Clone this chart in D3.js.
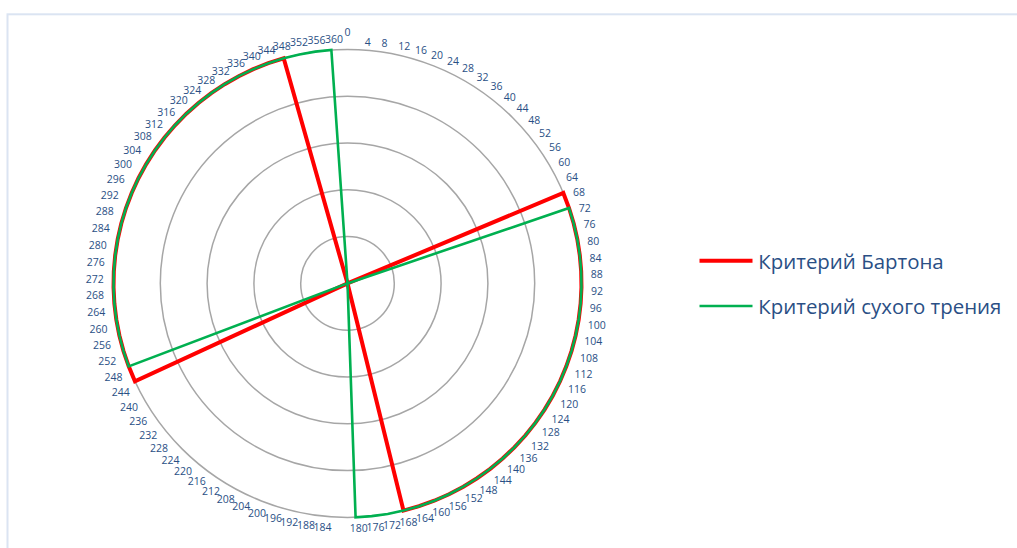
<!DOCTYPE html>
<html>
<head>
<meta charset="utf-8">
<script src="https://cdn.jsdelivr.net/npm/d3@7"></script>
<style>
  html, body { margin: 0; padding: 0; background: #ffffff; }
  svg { display: block; }
</style>
</head>
<body>
<script>
// Direction labels, degrees (91 categories; 360 closes the circle next to 0)
const categories = [
  "0","4","8","12","16","20","24","28","32","36",
  "40","44","48","52","56","60","64","68","72","76",
  "80","84","88","92","96","100","104","108","112","116",
  "120","124","128","132","136","140","144","148","152","156",
  "160","164","168","172","176","180","184","188","192","196",
  "200","204","208","212","216","220","224","228","232","236",
  "240","244","248","252","256","260","264","268","272","276",
  "280","284","288","292","296","300","304","308","312","316",
  "320","324","328","332","336","340","344","348","352","356",
  "360"
];

// Критерий Бартона (1 = criterion satisfied)
const bartonValues = [
  0,0,0,0,0,0,0,0,0,0,
  0,0,0,0,0,0,0,1,1,1,
  1,1,1,1,1,1,1,1,1,1,
  1,1,1,1,1,1,1,1,1,1,
  1,1,1,0,0,0,0,0,0,0,
  0,0,0,0,0,0,0,0,0,0,
  0,0,1,1,1,1,1,1,1,1,
  1,1,1,1,1,1,1,1,1,1,
  1,1,1,1,1,1,1,1,0,0,
  0
];

// Критерий сухого трения
const dryFrictionValues = [
  0,0,0,0,0,0,0,0,0,0,
  0,0,0,0,0,0,0,0,1,1,
  1,1,1,1,1,1,1,1,1,1,
  1,1,1,1,1,1,1,1,1,1,
  1,1,1,1,1,1,0,0,0,0,
  0,0,0,0,0,0,0,0,0,0,
  0,0,0,1,1,1,1,1,1,1,
  1,1,1,1,1,1,1,1,1,1,
  1,1,1,1,1,1,1,1,1,1,
  1
];

const gridLevels = [0.2, 0.4, 0.6, 0.8, 1.0];

const seriesNames = ["Критерий Бартона", "Критерий сухого трения"];
const seriesColors = ["#ff0000", "#00b050"];
const seriesWidths = [4, 2.6];

const W = 1017, H = 548;
const cx = 347.5, cy = 283.4, R = 234;
const textColor = "#2a4f85";
const labelFont = "'Open Sans', 'Noto Sans', sans-serif";
const labelSize = 10.5;

const svg = d3.select("body").append("svg")
  .attr("width", W).attr("height", H);

// chart-area frame (only top and left edges fall inside the page)
svg.append("rect")
  .attr("x", 7.5).attr("y", 14.3)
  .attr("width", 1200).attr("height", 1000)
  .attr("fill", "none")
  .attr("stroke", "#dbe4f2")
  .attr("stroke-width", 2);

const angle = d3.scaleBand()
  .domain(categories)
  .range([0, 2 * Math.PI])
  .paddingInner(0).paddingOuter(0).align(0);

const radius = d3.scaleLinear().domain([0, 1]).range([0, R]);

const g = svg.append("g").attr("transform", `translate(${cx},${cy})`);

// circular gridlines
g.selectAll("circle.grid")
  .data(gridLevels)
  .join("circle")
  .attr("class", "grid")
  .attr("r", d => radius(d))
  .attr("fill", "none")
  .attr("stroke", "#a6a6a6")
  .attr("stroke-width", 1.5);

// series polygons
const line = d3.lineRadial()
  .angle((d, i) => angle(categories[i]))
  .radius(d => radius(d))
  .curve(d3.curveLinearClosed);

const series = [bartonValues, dryFrictionValues];
g.selectAll("path.series")
  .data(series)
  .join("path")
  .attr("class", "series")
  .attr("d", d => line(d))
  .attr("fill", "none")
  .attr("stroke", (d, i) => seriesColors[i])
  .attr("stroke-width", (d, i) => seriesWidths[i])
  .attr("stroke-linejoin", "miter");

// category label placement around the outer ring
const labelR = R + 8;
const rightEx = d3.scaleLinear()
  .domain([3.96, 24, 60, 80, 100, 120, 140, 150, 158, 166, 180])
  .range([0.5, 2, 2.5, 2, 1, 0.5, -1, -2.4, -5, -6, -6]).clamp(true);
const rightDy = d3.scaleLinear()
  .domain([3.96, 24, 40, 60, 80, 100, 120, 150, 166, 180])
  .range([0, -1, 0, 2, 3.5, 4, 5, 5, 4, 2.6]).clamp(true);
const leftEx = d3.scaleLinear()
  .domain([182, 198, 218, 237, 253, 269, 281, 297, 312, 320, 336, 344, 356])
  .range([-7.6, -7.5, -7.8, -5.6, -4.8, -1.7, 0, 0.7, 5.9, 7.7, 10.8, 9.3, 12.2]).clamp(true);
const leftDy = d3.scaleLinear()
  .domain([182, 198, 218, 237, 253, 269, 281, 297, 312, 320, 336, 344, 352, 356])
  .range([1.6, -1, -4, -7, -8.4, -8.7, -9.7, -10.8, -8, -7, -6, -4.6, -3.8, -3]).clamp(true);

const labels = svg.append("g")
  .attr("font-family", labelFont)
  .attr("font-size", labelSize)
  .attr("fill", textColor);

categories.forEach(c => {
  const a = angle(c);
  const deg = a * 180 / Math.PI;
  const ax = cx + labelR * Math.sin(a);
  const ay = cy - labelR * Math.cos(a);
  let x, yc, anchor;
  if (deg < 0.01) {
    x = ax; yc = ay - 9.5; anchor = "middle";
  } else if (deg <= 180) {
    x = ax + rightEx(deg); yc = ay + rightDy(deg); anchor = "start";
  } else {
    x = ax + leftEx(deg); yc = ay + leftDy(deg); anchor = "end";
  }
  labels.append("text")
    .attr("x", x)
    .attr("y", yc + 0.36 * labelSize)
    .attr("text-anchor", anchor)
    .text(c);
});

// legend
const legend = svg.append("g")
  .attr("font-family", labelFont)
  .attr("fill", textColor);
const legendY = [260.8, 306];
const legendItems = legend.selectAll("g.item")
  .data(seriesNames)
  .join("g")
  .attr("class", "item");
legendItems.append("line")
  .attr("x1", 699.5).attr("x2", 752.5)
  .attr("y1", (d, i) => legendY[i]).attr("y2", (d, i) => legendY[i])
  .attr("stroke", (d, i) => seriesColors[i])
  .attr("stroke-width", (d, i) => seriesWidths[i]);
const legendTexts = legendItems.append("text")
  .attr("x", 758.3)
  .attr("font-size", 20)
  .text(d => d);
// size the legend type so the longer entry spans its measured width
const longest = legendTexts.nodes()[1].getComputedTextLength();
const legendSize = 20 * (243.4 / longest);
legendTexts
  .attr("font-size", legendSize)
  .attr("y", (d, i) => legendY[i] + 0.7 + 0.36 * legendSize);
</script>
</body>
</html>
